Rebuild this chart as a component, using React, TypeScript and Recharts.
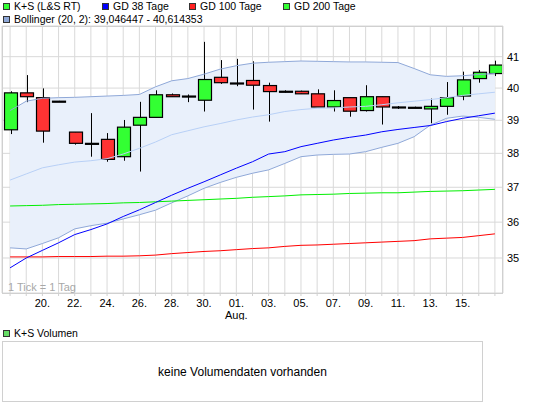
import React from "react";
import {
  ComposedChart,
  Bar,
  Line,
  Area,
  XAxis,
  YAxis,
  CartesianGrid,
} from "recharts";

// trading days 18 Jul - 17 Aug
const days = [
  "18", "19", "20", "21", "22", "23", "24", "25", "26", "27", "28", "29", "30", "31",
  "01", "02", "03", "04", "05", "06", "07", "08", "09", "10", "11", "12", "13", "14",
  "15", "16", "17",
];

const open = [
  38.71, 39.85, 39.7, 39.59, 38.64, 38.3, 38.42, 37.9, 38.85, 39.09, 39.79, 39.75, 39.62, 40.34,
  40.16, 40.24, 40.08, 39.9, 39.9, 39.82, 39.41, 39.7, 39.3, 39.73, 39.41, 39.4, 39.35, 39.43,
  39.75, 40.3, 40.46,
];
const high = [
  39.9, 40.41, 39.99, 39.6, 38.64, 39.22, 38.61, 39.01, 39.57, 39.93, 39.83, 39.8, 41.48, 40.89,
  40.93, 40.85, 40.17, 39.93, 39.92, 39.96, 39.93, 39.7, 40.09, 39.73, 39.44, 39.42, 39.67, 40.19,
  40.52, 40.57, 40.87,
];
const low = [
  38.58, 39.56, 38.32, 39.58, 38.26, 37.9, 37.75, 37.78, 37.46, 39.09, 39.73, 39.56, 39.27, 40.13,
  40.06, 39.33, 38.96, 39.86, 39.82, 39.41, 39.27, 39.11, 39.27, 38.87, 39.35, 39.38, 38.91, 39.17,
  39.62, 40.17, 40.38,
];
const close = [
  39.85, 39.73, 38.67, 39.59, 38.3, 38.3, 37.82, 38.79, 39.09, 39.79, 39.73, 39.75, 40.27, 40.17,
  40.16, 40.09, 39.89, 39.9, 39.82, 39.41, 39.61, 39.28, 39.73, 39.41, 39.41, 39.4, 39.43, 39.7,
  40.26, 40.5, 40.73,
];

const bbUpper = [
  39.3, 39.59, 39.68, 39.7, 39.71, 39.73, 39.75, 39.77, 39.8, 40.04, 40.23, 40.3, 40.44, 40.6,
  40.71, 40.79, 40.82, 40.84, 40.86, 40.85, 40.84, 40.83, 40.83, 40.82, 40.81, 40.62, 40.42, 40.37,
  40.39, 40.43, 40.46,
];
const bbMiddle = [
  37.21, 37.39, 37.57, 37.66, 37.74, 37.78, 37.84, 37.98, 38.15, 38.34, 38.56, 38.68, 38.8, 38.9,
  39.01, 39.1, 39.17, 39.27, 39.33, 39.37, 39.38, 39.41, 39.43, 39.48, 39.54, 39.59, 39.64, 39.7,
  39.77, 39.82, 39.87,
];
const bbLower = [
  35.28, 35.25, 35.4, 35.56, 35.81, 35.9, 35.97, 36.09, 36.21, 36.34, 36.55, 36.75, 36.97, 37.14,
  37.29, 37.41, 37.51, 37.7, 37.9, 37.95, 37.97, 37.98, 38.05, 38.18, 38.3, 38.5, 38.85, 39.06,
  39.13, 39.09, 39.03,
];

const gd38 = [
  34.73, 35.0, 35.21, 35.42, 35.65, 35.79, 35.95, 36.16, 36.35, 36.56, 36.77, 36.97, 37.16, 37.36,
  37.56, 37.75, 37.98, 38.05, 38.2, 38.3, 38.4, 38.48, 38.55, 38.65, 38.72, 38.78, 38.84, 38.96,
  39.06, 39.14, 39.22,
];
const gd100 = [
  35.03, 35.03, 35.03, 35.04, 35.04, 35.04, 35.05, 35.05, 35.06, 35.08, 35.12, 35.15, 35.18, 35.2,
  35.23, 35.26, 35.28, 35.32, 35.35, 35.36, 35.38, 35.4, 35.42, 35.44, 35.46, 35.48, 35.53, 35.55,
  35.57, 35.62, 35.67,
];
const gd200 = [
  36.46, 36.47, 36.48, 36.5, 36.51, 36.52, 36.53, 36.55, 36.56, 36.58, 36.6, 36.62, 36.64, 36.66,
  36.68, 36.71, 36.73, 36.75, 36.78, 36.79, 36.8, 36.82, 36.83, 36.84, 36.84, 36.86, 36.88, 36.89,
  36.9, 36.92, 36.94,
];

const yTicks = [35, 36, 37, 38, 39, 40, 41];

const data = days.map((day, i) => ({
  day,
  open: open[i],
  high: high[i],
  low: low[i],
  close: close[i],
  bbUpper: bbUpper[i],
  bbMiddle: bbMiddle[i],
  bbLower: bbLower[i],
  gd38: gd38[i],
  gd100: gd100[i],
  gd200: gd200[i],
}));

const FONT = "'Liberation Sans', Arial, sans-serif";

const Candle = (props: any) => {
  const { x, y, width, height, payload } = props;
  if (x == null || y == null) return null;
  const { open: o, close: c, high: h, low: l } = payload;
  const span = Math.log(h) - Math.log(l);
  // log scale: place open/close inside the high-low bar
  const yOf = (v: number) =>
    span > 0 ? y + (height * (Math.log(h) - Math.log(v))) / span : y;
  const cx = Math.round(x + width / 2) + 0.5;
  const yo = yOf(o);
  const yc = yOf(c);
  const top = Math.min(yo, yc);
  const bh = Math.max(Math.abs(yc - yo), 1);
  const fill = c > o ? "#33ff33" : c < o ? "#ff3333" : "#000";
  return (
    <g>
      <line x1={cx} x2={cx} y1={y} y2={y + height} stroke="#000" strokeWidth={1} />
      <rect
        x={Math.round(x) + 0.5}
        y={top}
        width={Math.round(width)}
        height={bh}
        fill={fill}
        stroke="#000"
        strokeWidth={1.2}
      />
    </g>
  );
};

const XTick = (props: any) => {
  const { x, y, index, payload } = props;
  if (index % 2 !== 0 || index < 2 || index > 28) return null;
  return (
    <g>
      <text x={x} y={y + 9} textAnchor="middle" fontSize={11} fill="#000" fontFamily={FONT}>
        {payload.value}.
      </text>
      {payload.value === "01" && (
        <text x={x} y={y + 21} textAnchor="middle" fontSize={11} fill="#000" fontFamily={FONT}>
          Aug.
        </text>
      )}
    </g>
  );
};

const LegendItem = ({
  left,
  top,
  color,
  label,
}: {
  left: number;
  top: number;
  color: string;
  label: string;
}) => (
  <div
    style={{
      position: "absolute",
      left,
      top,
      display: "flex",
      alignItems: "center",
      fontSize: 10.5,
      lineHeight: "12px",
      whiteSpace: "nowrap",
    }}
  >
    <span
      style={{
        display: "inline-block",
        width: 5,
        height: 5,
        background: color,
        border: "1px solid #333",
        marginRight: 4,
      }}
    />
    {label}
  </div>
);

export default function App() {
  return (
    <div
      style={{
        position: "absolute",
        left: 0,
        top: 0,
        width: 545,
        height: 410,
        background: "#fff",
        fontFamily: FONT,
        color: "#000",
        overflow: "hidden",
      }}
    >
      <LegendItem left={3} top={0} color="#33ff33" label="K+S (L&S RT)" />
      <LegendItem left={102} top={0} color="#0000ff" label="GD 38 Tage" />
      <LegendItem left={189} top={0} color="#ff2020" label="GD 100 Tage" />
      <LegendItem left={283} top={0} color="#33ff33" label="GD 200 Tage" />
      <LegendItem
        left={3}
        top={13}
        color="#8fa8d8"
        label="Bollinger (20, 2): 39,046447 - 40,614353"
      />

      <div style={{ position: "absolute", left: 0, top: 0 }}>
        <ComposedChart
          width={545}
          height={320}
          data={data}
          margin={{ top: 26, right: 0, bottom: 0, left: 2 }}
        >
          <CartesianGrid stroke="#d9d9d9" strokeWidth={1} />
          <XAxis
            dataKey="day"
            interval={0}
            height={27}
            axisLine={false}
            tickSize={3}
            tickLine={{ stroke: "#d0d0d0" }}
            tick={<XTick />}
          />
          <YAxis
            orientation="right"
            scale="log"
            domain={[34.05, 42]}
            allowDataOverflow
            ticks={yTicks}
            width={42}
            axisLine={false}
            tickLine={false}
            tickSize={2}
            tickMargin={2}
            tick={{ fill: "#000", fontSize: 11, fontFamily: FONT }}
          />
          <Area
            type="linear"
            dataKey={(d: any) => [d.bbLower, d.bbUpper]}
            stroke="none"
            fill="#e9f0fb"
            fillOpacity={1}
            isAnimationActive={false}
            activeDot={false}
          />
          <Line type="linear" dataKey="bbUpper" stroke="#8fa8d8" strokeWidth={1} dot={false} activeDot={false} isAnimationActive={false} />
          <Line type="linear" dataKey="bbLower" stroke="#8fa8d8" strokeWidth={1} dot={false} activeDot={false} isAnimationActive={false} />
          <Line type="linear" dataKey="bbMiddle" stroke="#b8d0f6" strokeWidth={1} dot={false} activeDot={false} isAnimationActive={false} />
          <Line type="linear" dataKey="gd200" stroke="#00ee00" strokeWidth={1} dot={false} activeDot={false} isAnimationActive={false} />
          <Line type="linear" dataKey="gd100" stroke="#ff0000" strokeWidth={1} dot={false} activeDot={false} isAnimationActive={false} />
          <Line type="linear" dataKey="gd38" stroke="#0000ff" strokeWidth={1} dot={false} activeDot={false} isAnimationActive={false} />
          <Bar
            dataKey={(d: any) => [d.low, d.high]}
            barSize={13}
            shape={<Candle />}
            isAnimationActive={false}
          />
        </ComposedChart>
      </div>

      {/* plot frame */}
      <div
        style={{
          position: "absolute",
          left: 2,
          top: 26,
          width: 501,
          height: 268,
          boxSizing: "border-box",
          border: "1px solid #d0d0d0",
          pointerEvents: "none",
        }}
      />
      <div
        style={{
          position: "absolute",
          left: 8,
          top: 281,
          fontSize: 11,
          lineHeight: "12px",
          color: "#a8a8a8",
        }}
      >
        1 Tick = 1 Tag
      </div>

      {/* volume panel */}
      <LegendItem left={3} top={327} color="#66dd66" label="K+S Volumen" />
      <div
        style={{
          position: "absolute",
          left: 2,
          top: 341,
          width: 481,
          height: 61,
          boxSizing: "border-box",
          border: "1px solid #d0d0d0",
          display: "flex",
          alignItems: "center",
          justifyContent: "center",
          fontSize: 12,
        }}
      >
        keine Volumendaten vorhanden
      </div>
    </div>
  );
}
